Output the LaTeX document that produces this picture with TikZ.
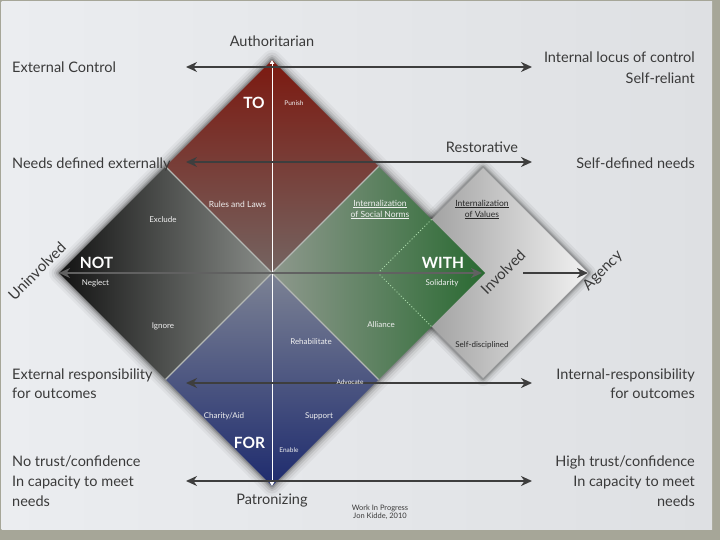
\documentclass[tikz,border=0pt]{standalone}
\usepackage{fontspec}
\setmainfont{Lato}
\usetikzlibrary{arrows.meta}
\definecolor{txt}{HTML}{3A3A3A}
\definecolor{arrowc}{HTML}{3E3E3E}
\definecolor{frame}{HTML}{A6A698}
\definecolor{bgL}{HTML}{EBEDF0}
\definecolor{bgR}{HTML}{DEE0E3}
\definecolor{redT}{HTML}{7C1910}
\definecolor{redM}{HTML}{7A3B35}
\definecolor{redC}{HTML}{746461}
\definecolor{blkL}{HTML}{121212}
\definecolor{blkM}{HTML}{3C3D3C}
\definecolor{blkC}{HTML}{8A8E8A}
\definecolor{grnC}{HTML}{8E988D}
\definecolor{grnM}{HTML}{3E7A45}
\definecolor{grnR}{HTML}{2A6A32}
\definecolor{bluC}{HTML}{7C8294}
\definecolor{bluM}{HTML}{404D80}
\definecolor{bluB}{HTML}{1E2B6E}
\definecolor{gryD}{HTML}{888888}
\definecolor{gryL}{HTML}{F2F2F2}
\definecolor{divl}{HTML}{B4B8B4}
\definecolor{dotg}{HTML}{A8D8A8}
\begin{document}
\begin{tikzpicture}[x=1pt,y=-1pt,
  outer/.style={text=txt, font=\fontsize{14.5}{17}\selectfont, inner sep=0pt},
  lbl/.style={text=white!94!black, font=\fontsize{8}{9.5}\selectfont, inner sep=0pt},
  tinylbl/.style={lbl, font=\fontsize{6.5}{8}\selectfont},
  dlbl/.style={lbl, text=black!85},
  big/.style={text=white, font=\bfseries\fontsize{15.5}{18}\selectfont, inner sep=0pt},
  harrow/.style={draw=arrowc, line width=2.6pt, {Stealth[length=11pt,width=10pt]}-{Stealth[length=11pt,width=10pt]}},
  rotlbl/.style={text=txt, font=\fontsize{15}{17}\selectfont, inner sep=0pt, rotate=45},
]
\useasboundingbox (0,0) rectangle (720,540);
% background
\fill[frame] (0,0) rectangle (720,540);
\shade[left color=bgL, right color=bgR] (1.5,2) rectangle (712,529);

% key points of the diamonds
\coordinate (T) at (272,60);
\coordinate (B) at (272,486);
\coordinate (L) at (59,273);
\coordinate (R) at (485,273);
\coordinate (C) at (272,273);
\coordinate (UL) at (165.5,166.5);
\coordinate (UR) at (378.5,166.5);
\coordinate (LR) at (378.5,379.5);
\coordinate (LL) at (165.5,379.5);
\coordinate (gT) at (483,168);
\coordinate (gR) at (588,273);
\coordinate (gB) at (483,378);
\coordinate (gL) at (378,273);
\coordinate (d1) at (431.5,219.5);
\coordinate (d2) at (431.5,326.5);

% soft shadows
\foreach \w/\o in {20/0.04,15/0.06,10/0.09,6/0.13,3/0.16}{
  \draw[line width=\w pt, black, opacity=\o, line join=round] (T)--(L)--(B)--(R)--cycle;
}
\foreach \w/\o in {16/0.05,11/0.08,7/0.11,4/0.16}{
  \draw[line width=\w pt, black, opacity=\o, line join=round] (gT)--(gR)--(gB)--(gL)--cycle;
}
% agency diamond
\shade[left color=gryD, right color=gryL] (gT)--(gR)--(gB)--(gL)--cycle;

% four quadrant diamonds
\shade[top color=redT, middle color=redM, bottom color=redC] (T)--(UR)--(C)--(UL)--cycle;
\shade[left color=blkL, middle color=blkM, right color=blkC] (UL)--(C)--(LL)--(L)--cycle;
\shade[left color=grnC, middle color=grnM, right color=grnR] (UR)--(R)--(LR)--(C)--cycle;
\shade[top color=bluC, middle color=bluM, bottom color=bluB] (C)--(LR)--(B)--(LL)--cycle;

% dividing lines
\draw[divl, line width=1.3pt] (UL)--(LR);
\draw[divl, line width=1.3pt] (UR)--(LL);
% hidden edges of the agency diamond
\draw[dotg, line width=1pt, dotted] (d1)--(gL)--(d2);

% vertical axis
\draw[white, line width=1pt, {Triangle[length=4pt,width=4.5pt]}-{Triangle[length=4pt,width=4.5pt]}] (T)--(B);

% horizontal arrows
\coordinate (a1l) at (186,67);   \coordinate (a1r) at (532,67);
\coordinate (a2l) at (186,162);  \coordinate (a2r) at (532,162);
\coordinate (a4l) at (186,383);  \coordinate (a4r) at (532,383);
\coordinate (a5l) at (186,481);  \coordinate (a5r) at (532,481);
\coordinate (mR) at (482,273);
\coordinate (agS) at (523,273);
\draw[harrow] (a1l)--(a1r);
\draw[harrow] (a2l)--(a2r);
\draw[harrow] (a4l)--(a4r);
\draw[harrow] (a5l)--(a5r);
\draw[harrow, draw=black!62] (L)--(mR);
\draw[draw=arrowc, line width=2.6pt, -{Stealth[length=11pt,width=10pt]}] (agS)--(gR);

% outer labels
\node[outer, anchor=base] (auth) at (272,46.5) {Authoritarian};
\node[outer, anchor=base west] (extc) at (12,72.5) {External Control};
\node[outer, anchor=base east] (intl) at (695,63) {Internal locus of control};
\node[outer, anchor=base east] (selfr) at (695,83.5) {Self-reliant};
\node[outer, anchor=base west] (needx) at (12,169) {Needs defined externally};
\node[outer, anchor=base] (rest) at (482,153) {Restorative};
\node[outer, anchor=base east] (selfd) at (695,169) {Self-defined needs};
\node[outer, anchor=base west] (extr1) at (12,379) {External responsibility};
\node[outer, anchor=base west] (extr2) at (12,398.5) {for outcomes};
\node[outer, anchor=base east] (intr1) at (695,379) {Internal-responsibility};
\node[outer, anchor=base east] (intr2) at (695,398.5) {for outcomes};
\node[outer, anchor=base west] (not1) at (12,466.5) {No trust/confidence};
\node[outer, anchor=base west] (not2) at (12,486.5) {In capacity to meet};
\node[outer, anchor=base west] (not3) at (12,506.5) {needs};
\node[outer, anchor=base east] (hi1) at (695,466.5) {High trust/confidence};
\node[outer, anchor=base east] (hi2) at (695,486.5) {In capacity to meet};
\node[outer, anchor=base east] (hi3) at (695,506.5) {needs};
\node[outer, anchor=base] (patr) at (272,504.5) {Patronizing};
\node[text=txt, font=\fontsize{7.5}{8.5}\selectfont, inner sep=0pt, align=center] (wip) at (380,512) {Work In Progress\\Jon Kidde, 2010};
\node[rotlbl] (uninv) at (37,271) {Uninvolved};
\node[rotlbl] (inv) at (503,272) {Involved};
\node[rotlbl] (agen) at (603,271) {Agency};

% quadrant labels
\node[big] (to) at (254,102.5) {TO};
\node[tinylbl] (pun) at (294,103) {Punish};
\node[lbl, font=\fontsize{8.5}{10}\selectfont] (rul) at (237.5,204) {Rules and Laws};
\node[lbl] (exc) at (163,220) {Exclude};
\node[big] (notb) at (96.5,262.5) {NOT};
\node[lbl] (neg) at (95.5,283) {Neglect};
\node[lbl] (ign) at (163,326) {Ignore};
\node[lbl] (reh) at (311,342) {Rehabilitate};
\node[lbl] (all) at (381,325) {Alliance};
\node[tinylbl] (adv) at (350,382) {Advocate};
\node[lbl, font=\fontsize{8.5}{10}\selectfont, align=center] (isn) at (380,209.5) {\underline{Internalization}\\[1pt]\underline{of Social Norms}};
\node[big] (with) at (443,262.5) {WITH};
\node[lbl] (sol) at (442,283) {Solidarity};
\node[dlbl, font=\fontsize{8.5}{10}\selectfont, align=center] (iv) at (482,209.5) {\underline{Internalization}\\[1pt]\underline{of Values}};
\node[dlbl] (sd) at (482,345) {Self-disciplined};
\node[lbl] (cha) at (224,416) {Charity/Aid};
\node[lbl] (sup) at (319,416) {Support};
\node[big] (for) at (249.5,443) {FOR};
\node[tinylbl] (ena) at (289,450) {Enable};
\end{tikzpicture}
\end{document}
